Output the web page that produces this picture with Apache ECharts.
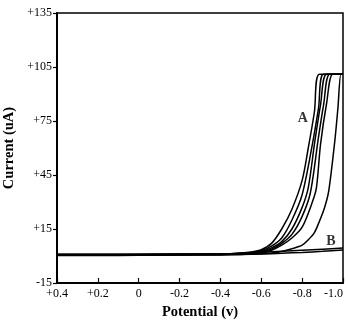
<!DOCTYPE html>
<html>
<head>
<meta charset="utf-8">
<script src="https://cdn.jsdelivr.net/npm/echarts@6/dist/echarts.min.js"></script>
<style>html,body{margin:0;padding:0;background:#fff;}#c{width:348px;height:322px;}</style>
</head>
<body>
<div id="c"></div>
<script>
// Tick labels
const xTicks = ['+0.4', '+0.2', '0', '-0.2', '-0.4', '-0.6', '-0.8', '-1.0'];
const yTicks = ['-15', '+15', '+45', '+75', '+105', '+135'];

// Curve A: repeated cycles, [potential (V), current (uA)]
const curveA1 = [[0.4,0.6],[0.2,0.6],[0,0.7],[-0.2,0.8],[-0.4,1.0],[-0.5,1.6],[-0.55,2.2],[-0.6,3.5],[-0.65,7],[-0.7,15],[-0.75,26],[-0.8,42],[-0.83,60],[-0.86,80],[-0.885,101],[-1.0,101]];
const curveA2 = [[0.4,0.8],[0.2,0.8],[0,0.9],[-0.2,1.0],[-0.4,1.1],[-0.5,1.5],[-0.55,2.0],[-0.6,3.0],[-0.65,5.5],[-0.7,10],[-0.75,20],[-0.8,34],[-0.85,62],[-0.88,82],[-0.905,101],[-1.0,101]];
const curveA3 = [[0.4,1.0],[0.2,1.0],[0,1.0],[-0.2,1.1],[-0.4,1.2],[-0.5,1.4],[-0.55,1.8],[-0.6,2.5],[-0.65,4.5],[-0.7,8],[-0.75,15],[-0.8,27],[-0.83,38],[-0.86,62],[-0.89,84],[-0.92,101],[-1.0,101]];
const curveA4 = [[0.4,0.4],[0.2,0.5],[0,0.6],[-0.2,0.7],[-0.4,0.9],[-0.5,1.2],[-0.55,1.6],[-0.6,2.2],[-0.65,3.8],[-0.7,7],[-0.75,12],[-0.8,22],[-0.84,35],[-0.88,66],[-0.905,84],[-0.935,101],[-1.0,101]];
const curveA5 = [[0.4,0.9],[0.2,0.9],[0,0.9],[-0.2,1.0],[-0.4,1.1],[-0.5,1.3],[-0.55,1.5],[-0.6,2.0],[-0.65,3.2],[-0.7,6],[-0.75,10],[-0.8,16],[-0.85,30],[-0.87,38],[-0.89,62],[-0.92,85],[-0.95,101],[-1.0,101]];
const curveA6 = [[0.4,0.5],[0.2,0.5],[0,0.5],[-0.2,0.6],[-0.4,0.7],[-0.5,0.9],[-0.55,1.0],[-0.6,1.2],[-0.65,1.6],[-0.7,2.5],[-0.75,4],[-0.8,6],[-0.83,9],[-0.86,13],[-0.88,18],[-0.91,27],[-0.93,36],[-0.96,64],[-0.975,82],[-0.99,101],[-1.0,101]];

// Curve B: blank electrode, forward and reverse
const curveB1 = [[0.4,0.7],[0.2,0.7],[0,0.8],[-0.2,0.9],[-0.4,1.1],[-0.5,1.4],[-0.6,2.0],[-0.7,2.6],[-0.8,3.2],[-0.9,3.8],[-1.0,4.4]];
const curveB2 = [[0.4,0.3],[0.2,0.3],[0,0.4],[-0.2,0.5],[-0.4,0.6],[-0.5,0.8],[-0.6,1.1],[-0.7,1.5],[-0.8,2.0],[-0.9,2.6],[-1.0,3.3]];

// Curve labels
const curveLabels = [{name: 'A', value: [-0.803, 76.5]}, {name: 'B', value: [-0.941, 8.0]}];

const serif = 'Liberation Serif';
const chart = echarts.init(document.getElementById('c'), null, {renderer: 'canvas'});

const lineSeries = (d) => ({
  type: 'line', data: d, showSymbol: false, smooth: 0.3, animation: false,
  lineStyle: {color: '#000', width: 1.5}, z: 3
});

chart.setOption({
  animation: false,
  grid: {left: 57, right: 5, top: 13, bottom: 39, show: true, borderColor: '#000', borderWidth: 1.5,
    backgroundColor: 'transparent', containLabel: false, outerBoundsMode: 'none'},
  xAxis: {
    type: 'value', min: -1.0, max: 0.4, interval: 0.2, inverse: true,
    name: 'Potential (v)', nameLocation: 'middle', nameGap: 22,
    nameTextStyle: {fontFamily: serif, fontWeight: 'bold', fontSize: 14.5, color: '#000'},
    axisLine: {show: true, onZero: false, lineStyle: {color: '#000', width: 2}},
    axisTick: {show: true, inside: true, length: 5, lineStyle: {color: '#000', width: 1.2}},
    axisLabel: {fontFamily: serif, fontSize: 12, color: '#000', margin: 5, hideOverlap: false,
      alignMinLabel: 'right',
      formatter: (v) => xTicks[Math.round((0.4 - v) / 0.2)] ?? ''},
    splitLine: {show: false}
  },
  yAxis: {
    type: 'value', min: -15, max: 135, interval: 30,
    name: 'Current (uA)', nameLocation: 'middle', nameGap: 38,
    nameTextStyle: {fontFamily: serif, fontWeight: 'bold', fontSize: 14.5, color: '#000'},
    axisLine: {show: true, onZero: false, lineStyle: {color: '#000', width: 2}},
    axisTick: {show: true, inside: false, length: 4, lineStyle: {color: '#000', width: 1.2}},
    axisLabel: {fontFamily: serif, fontSize: 12, color: '#000', margin: 5,
      formatter: (v) => yTicks[Math.round((v + 15) / 30)] ?? ''},
    splitLine: {show: false}
  },
  series: [
    lineSeries(curveA1), lineSeries(curveA2), lineSeries(curveA3),
    lineSeries(curveA4), lineSeries(curveA5), lineSeries(curveA6),
    lineSeries(curveB1), lineSeries(curveB2),
    {
      type: 'scatter', data: curveLabels, symbolSize: 0, animation: false, z: 5,
      label: {show: true, position: 'inside', formatter: (p) => p.name,
        fontFamily: serif, fontWeight: 'bold', fontSize: 14, color: '#000'}
    }
  ]
});
</script>
</body>
</html>
